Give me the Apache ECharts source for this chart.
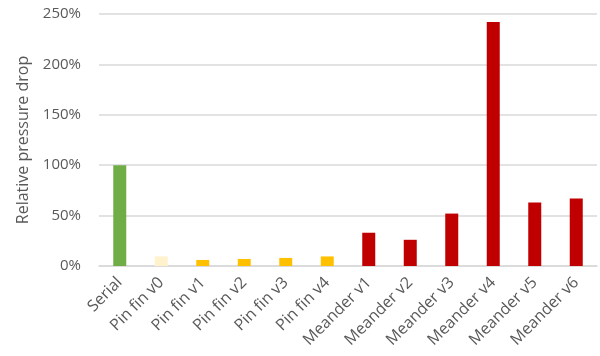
<!DOCTYPE html>
<html><head><meta charset="utf-8">
<script src="https://cdn.jsdelivr.net/npm/echarts@6/dist/echarts.min.js"></script>
<style>html,body{margin:0;padding:0;background:#fff}#c{width:600px;height:356px}</style>
</head><body><div id="c"></div>
<script>
const categories = ["Serial","Pin fin v0","Pin fin v1","Pin fin v2","Pin fin v3","Pin fin v4","Meander v1","Meander v2","Meander v3","Meander v4","Meander v5","Meander v6"];
const values = [100, 9.5, 6, 7, 8, 9.5, 33, 26, 52, 242, 63, 67];
const barColors = ["#70AD47","#FFF2CC","#FFC000","#FFC000","#FFC000","#FFC000","#C00000","#C00000","#C00000","#C00000","#C00000","#C00000"];
const yTicks = [0, 50, 100, 150, 200, 250];
const yName = "Relative pressure drop";

const chart = echarts.init(document.getElementById('c'), null, {renderer:'canvas'});
const font = "'Open Sans', sans-serif";
chart.setOption({
  animation:false,
  grid:{left:99, right:3, top:14, bottom:90, containLabel:false},
  xAxis:{type:'category', data:categories,
    axisLine:{show:true, lineStyle:{color:'#D9D9D9', width:1.5}},
    axisTick:{show:false},
    axisLabel:{rotate:45, interval:0, color:'#595959', fontSize:16, fontFamily:font, margin:14}
  },
  yAxis:{type:'value', min:yTicks[0], max:yTicks[yTicks.length-1], interval:50,
    name:yName, nameLocation:'middle', nameGap:68, nameRotate:90,
    nameTextStyle:{color:'#595959', fontSize:16, fontFamily:font},
    axisLine:{show:false}, axisTick:{show:false},
    axisLabel:{formatter:'{value}%', color:'#595959', fontSize:15, fontFamily:font, margin:18},
    splitLine:{lineStyle:{color:'#D9D9D9', width:1.5}}
  },
  series:[{type:'bar', barWidth:13,
    data: values.map((v,i)=>({value:v, itemStyle:{color:barColors[i]}}))
  }]
});
</script></body></html>
